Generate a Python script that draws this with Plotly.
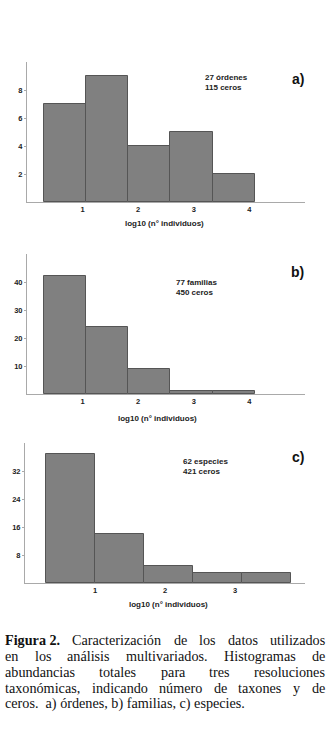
import plotly.graph_objects as go

# ---- data ----
counts_a = [7, 9, 4, 5, 2]
counts_b = [42, 24, 9, 1, 1]
counts_c = [37, 14, 5, 3, 3]
bin_start_ab = 0.30
bin_width_ab = 0.76
bin_start_c = 0.295
bin_width_c = 0.70
yticks_a = [2, 4, 6, 8]
yticks_b = [10, 20, 30, 40]
yticks_c = [8, 16, 24, 32]
xticks_ab = [1, 2, 3, 4]
xticks_c = [1, 2, 3]
info_a = ["27 órdenes", "115 ceros"]
info_b = ["77 familias", "450 ceros"]
info_c = ["62 especies", "421 ceros"]
panel_labels = ["a)", "b)", "c)"]
axis_title = "log10 (n° individuos)"
caption_bold = "Figura 2."
caption_lines = [
    "Caracterización de los datos utilizados",
    "en los análisis multivariados. Histogramas de",
    "abundancias totales para tres resoluciones",
    "taxonómicas, indicando número de taxones y de",
    "ceros.  a) órdenes, b) familias, c) especies.",
]

W, H = 335, 729
def px(x):
    return x / W
def py(y):
    return 1 - y / H

BAR_FILL = "#808080"
BAR_EDGE = "#555555"
AXIS_COL = "#a9a9a9"
SANS = "Liberation Sans, Arial, sans-serif"
SERIF = "Liberation Serif, Times New Roman, serif"

fig = go.Figure()

panels = [
    dict(counts=counts_a, start=bin_start_ab, width=bin_width_ab, xr=[0, 5], yr=[0, 10],
         yt=yticks_a, xt=xticks_ab, dom_x=(27, 305), dom_y=(62, 202), info=info_a,
         info_xy=(204, 83), lab_y=79, title_xy=(164, 223)),
    dict(counts=counts_b, start=bin_start_ab, width=bin_width_ab, xr=[0, 5], yr=[0, 50],
         yt=yticks_b, xt=xticks_ab, dom_x=(27, 305), dom_y=(254, 394), info=info_b,
         info_xy=(175, 287), lab_y=272, title_xy=(157, 418)),
    dict(counts=counts_c, start=bin_start_c, width=bin_width_c, xr=[0, 4], yr=[0, 40],
         yt=yticks_c, xt=xticks_c, dom_x=(25, 305), dom_y=(443, 583), info=info_c,
         info_xy=(182, 466), lab_y=457, title_xy=(168, 604)),
]

annotations = []
for i, p in enumerate(panels):
    n = i + 1
    xa = "x" if n == 1 else f"x{n}"
    ya = "y" if n == 1 else f"y{n}"
    centers = [p["start"] + p["width"] * (k + 0.5) for k in range(len(p["counts"]))]
    fig.add_trace(go.Bar(
        x=centers, y=p["counts"], width=p["width"], xaxis=xa, yaxis=ya,
        marker=dict(color=BAR_FILL, line=dict(color=BAR_EDGE, width=1)),
        showlegend=False, hoverinfo="x+y",
    ))
    xkey = "xaxis" if n == 1 else f"xaxis{n}"
    ykey = "yaxis" if n == 1 else f"yaxis{n}"
    fig.update_layout(**{
        xkey: dict(domain=[px(p["dom_x"][0]), px(p["dom_x"][1])], range=p["xr"],
                   anchor=ya, showline=True, linecolor=AXIS_COL, linewidth=1,
                   showgrid=False, zeroline=False, tickmode="array", tickvals=p["xt"],
                   ticks="", tickfont=dict(family=SANS, size=7.5, color="#222222", weight="bold"),
                   fixedrange=True),
        ykey: dict(domain=[py(p["dom_y"][1]), py(p["dom_y"][0])], range=p["yr"],
                   anchor=xa, showline=True, linecolor=AXIS_COL, linewidth=1,
                   showgrid=False, zeroline=False, tickmode="array", tickvals=p["yt"],
                   ticks="outside", ticklen=2, tickcolor=AXIS_COL,
                   tickfont=dict(family=SANS, size=7.5, color="#222222", weight="bold"),
                   fixedrange=True),
    })
    annotations.append(dict(
        x=px(p["info_xy"][0]), y=py(p["info_xy"][1]), xref="paper", yref="paper",
        text="<br>".join(p["info"]), showarrow=False, xanchor="left", yanchor="middle",
        align="left", font=dict(family=SANS, size=8, color="#222222", weight="bold"),
        borderpad=0,
    ))
    annotations.append(dict(
        x=px(305), y=py(p["lab_y"]), xref="paper", yref="paper",
        text=panel_labels[i], showarrow=False, xanchor="right", yanchor="middle",
        font=dict(family=SANS, size=14, color="#111111", weight="bold"), borderpad=0,
    ))
    annotations.append(dict(
        x=px(p["title_xy"][0]), y=py(p["title_xy"][1]), xref="paper", yref="paper",
        text=axis_title, showarrow=False, xanchor="center", yanchor="middle",
        font=dict(family=SANS, size=8, color="#222222", weight="bold"), borderpad=0,
    ))

# ---- caption: justified text, words placed using Times metrics ----
TIMES = {' ': 250, 'a': 444, 'b': 500, 'c': 444, 'd': 500, 'e': 444, 'f': 333, 'g': 500,
         'h': 500, 'i': 278, 'l': 278, 'm': 778, 'n': 500, 'o': 500, 'p': 500, 'r': 333,
         's': 389, 't': 278, 'u': 500, 'v': 500, 'x': 500, 'y': 500, 'z': 444, 'á': 444,
         'ó': 500, 'ú': 500, '.': 250, ',': 250, '(': 333, ')': 333, '2': 500, 'C': 667,
         'F': 556, 'H': 722}
TIMES_B = {'F': 611, 'i': 278, 'g': 500, 'u': 556, 'r': 444, 'a': 500, ' ': 250, '2': 500, '.': 250}
FS = 14.2
LEFT, RIGHT = 4, 324
line_y = [639.5, 655.5, 671.5, 687.5, 703.5]

def wlen(s, table):
    return sum(table.get(ch, 500) for ch in s) / 1000 * FS

def cap_ann(text, x, y):
    return dict(x=px(x), y=py(y), xref="paper", yref="paper", text=text,
                showarrow=False, xanchor="left", yanchor="middle",
                font=dict(family=SERIF, size=FS, color="#111111"), borderpad=0)

for li, (line, yy) in enumerate(zip(caption_lines, line_y)):
    words = line.split()
    items = [(w, wlen(w, TIMES)) for w in words]
    if li == 0:
        items = [("<b>" + caption_bold + "</b>", wlen(caption_bold, TIMES_B))] + items
    if li < len(caption_lines) - 1:
        total = sum(w for _, w in items)
        gap = (RIGHT - LEFT - total) / (len(items) - 1)
        x = LEFT
        for t, w in items:
            annotations.append(cap_ann(t, x, yy))
            x += w + gap
    else:
        annotations.append(cap_ann(line.replace("  ", "&nbsp; "), LEFT, yy))

fig.update_layout(
    width=W, height=H, margin=dict(l=0, r=0, t=0, b=0),
    paper_bgcolor="white", plot_bgcolor="white",
    annotations=annotations, bargap=0,
)

fig.write_html("out.html", config={"displayModeBar": False},
               post_script="document.body.style.margin='0';document.body.style.overflow='hidden';")
